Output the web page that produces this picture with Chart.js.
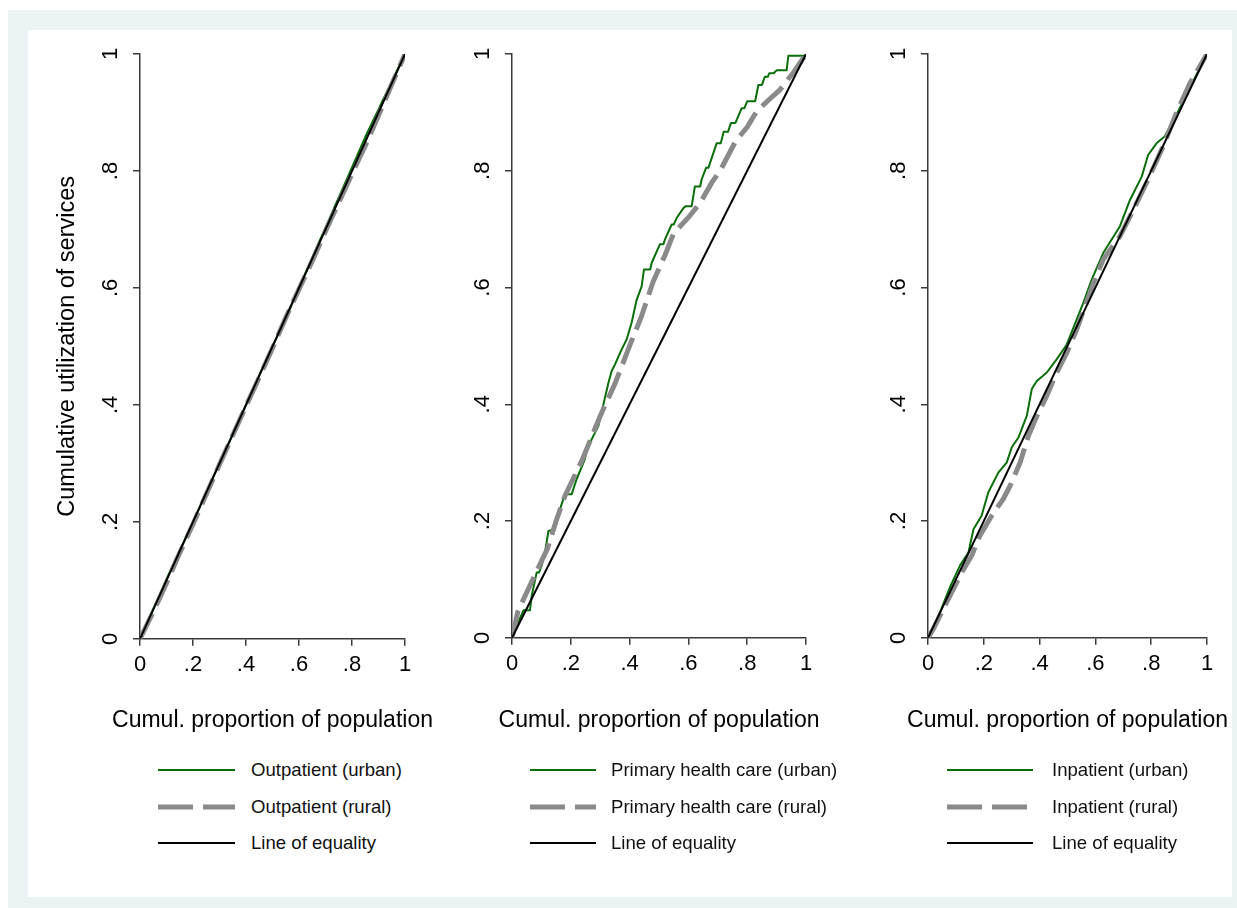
<!DOCTYPE html>
<html>
<head>
<meta charset="utf-8">
<title>Concentration curves</title>
<script src="https://cdn.jsdelivr.net/npm/chart.js@4.4.1/dist/chart.umd.min.js"></script>
<style>
html, body { margin: 0; padding: 0; overflow: hidden; }
body { width: 1237px; height: 908px; position: relative; background: #fff; font-family: "Liberation Sans", Arial, sans-serif; }
#outer { position: absolute; left: 8px; top: 10px; width: 1229px; height: 898px; background: #eaf2f3; }
#inner { position: absolute; left: 28px; top: 30px; width: 1204px; height: 867px; background: #fff; }
canvas { position: absolute; top: 30px; }
.row { position: absolute; height: 24px; display: flex; align-items: center; font-size: 18.6px; color: #111; white-space: nowrap; }
.row svg { display: block; }
</style>
</head>
<body>
<div id="outer"></div>
<div id="inner"></div>
<script>
// axis ticks shared by all three panels
var tickVals = [0, 0.2, 0.4, 0.6, 0.8, 1];
var tickText = ["0", ".2", ".4", ".6", ".8", "1"];
var xTitle = "Cumul. proportion of population";
var yTitle = "Cumulative utilization of services";

var equalityX = [0, 1];
var equalityY = [0, 1];

// Outpatient
var outUrbanX = [0, 0.05, 0.1, 0.15, 0.2, 0.25, 0.3, 0.35, 0.4, 0.45, 0.5, 0.55, 0.6, 0.65, 0.7, 0.75, 0.8, 0.85, 0.9, 0.95, 1];
var outUrbanY = [0, 0.051, 0.102, 0.151, 0.199, 0.25, 0.301, 0.349, 0.4, 0.451, 0.5, 0.548, 0.6, 0.652, 0.703, 0.755, 0.806, 0.858, 0.905, 0.953, 1];
var outRuralX = [0, 0.05, 0.1, 0.15, 0.2, 0.25, 0.3, 0.35, 0.4, 0.45, 0.5, 0.55, 0.6, 0.65, 0.7, 0.75, 0.8, 0.85, 0.9, 0.95, 1];
var outRuralY = [0, 0.046, 0.095, 0.147, 0.196, 0.247, 0.298, 0.348, 0.398, 0.447, 0.497, 0.549, 0.598, 0.646, 0.697, 0.746, 0.795, 0.843, 0.895, 0.948, 1];

// Primary health care
var phcUrbanX = [0, 0.016, 0.039, 0.061, 0.067, 0.084, 0.092, 0.101, 0.112, 0.124, 0.146, 0.163, 0.18, 0.203, 0.22, 0.248, 0.254, 0.294, 0.328, 0.339, 0.35, 0.373, 0.39, 0.407, 0.424, 0.441, 0.449, 0.47, 0.475, 0.503, 0.515, 0.52, 0.543, 0.55, 0.56, 0.583, 0.59, 0.611, 0.622, 0.64, 0.645, 0.66, 0.668, 0.696, 0.71, 0.72, 0.735, 0.745, 0.76, 0.781, 0.79, 0.8, 0.827, 0.838, 0.85, 0.86, 0.87, 0.875, 0.89, 0.9, 0.934, 0.94, 0.997, 1];
var phcUrbanY = [0, 0.021, 0.047, 0.047, 0.072, 0.112, 0.112, 0.124, 0.146, 0.183, 0.186, 0.22, 0.246, 0.246, 0.272, 0.306, 0.323, 0.363, 0.437, 0.457, 0.468, 0.494, 0.511, 0.54, 0.579, 0.602, 0.631, 0.631, 0.642, 0.674, 0.674, 0.682, 0.708, 0.708, 0.719, 0.736, 0.739, 0.739, 0.773, 0.773, 0.785, 0.805, 0.805, 0.847, 0.847, 0.867, 0.867, 0.882, 0.882, 0.907, 0.907, 0.919, 0.919, 0.947, 0.947, 0.961, 0.961, 0.967, 0.967, 0.972, 0.972, 0.997, 0.997, 1];
var phcRuralX = [0, 0.02, 0.04, 0.08, 0.12, 0.15, 0.18, 0.24, 0.3, 0.35, 0.4, 0.44, 0.48, 0.52, 0.55, 0.6, 0.64, 0.68, 0.71, 0.76, 0.8, 0.83, 0.87, 0.91, 0.96, 1];
var phcRuralY = [0, 0.045, 0.067, 0.11, 0.152, 0.2, 0.243, 0.306, 0.38, 0.435, 0.5, 0.55, 0.61, 0.655, 0.693, 0.72, 0.745, 0.78, 0.802, 0.85, 0.875, 0.9, 0.92, 0.938, 0.97, 1];

// Inpatient
var inUrbanX = [0, 0.043, 0.079, 0.115, 0.145, 0.163, 0.192, 0.216, 0.252, 0.282, 0.3, 0.324, 0.354, 0.372, 0.39, 0.425, 0.461, 0.497, 0.557, 0.587, 0.628, 0.688, 0.724, 0.766, 0.789, 0.819, 0.849, 0.9, 0.95, 1];
var inUrbanY = [0, 0.044, 0.087, 0.124, 0.146, 0.186, 0.209, 0.249, 0.283, 0.3, 0.326, 0.343, 0.38, 0.426, 0.44, 0.454, 0.477, 0.502, 0.574, 0.614, 0.659, 0.705, 0.75, 0.79, 0.827, 0.847, 0.859, 0.905, 0.953, 1];
var inRuralX = [0, 0.019, 0.067, 0.121, 0.157, 0.186, 0.228, 0.27, 0.294, 0.33, 0.36, 0.39, 0.425, 0.461, 0.497, 0.533, 0.593, 0.628, 0.688, 0.736, 0.789, 0.843, 0.891, 0.939, 1];
var inRuralY = [0, 0.015, 0.061, 0.112, 0.141, 0.175, 0.209, 0.238, 0.26, 0.3, 0.346, 0.38, 0.414, 0.454, 0.488, 0.528, 0.608, 0.648, 0.688, 0.733, 0.785, 0.842, 0.9, 0.95, 1];

var green = "#0a6e0a";
var gray = "#8a8a8a";
var axisColor = "#3a3a3a";
var fontFamily = "'Liberation Sans', Arial, sans-serif";

function toPoints(xs, ys) {
    var pts = [];
    for (var i = 0; i < xs.length; i++) {
        pts.push({ x: xs[i], y: ys[i] });
    }
    return pts;
}

function addLegend(cfg) {
    var rowsY = [770, 807, 843];
    var items = [
        { text: cfg.labels[0], color: green, width: 2, dash: "" },
        { text: cfg.labels[1], color: gray, width: 5, dash: "35 10" },
        { text: "Line of equality", color: "#000", width: 2, dash: "" }
    ];
    items.forEach(function(item, i) {
        var row = document.createElement("div");
        row.className = "row";
        row.style.left = cfg.legendLeft + "px";
        row.style.top = (rowsY[i] - 12) + "px";
        var w = cfg.sampleWidth;
        row.innerHTML = '<svg width="' + w + '" height="10"><line x1="0" y1="5" x2="' + w + '" y2="5" stroke="' + item.color +
            '" stroke-width="' + item.width + '"' + (item.dash ? ' stroke-dasharray="' + item.dash + '"' : '') + '/></svg>' +
            '<span style="margin-left:' + cfg.textGap + 'px">' + item.text + '</span>';
        document.body.appendChild(row);
    });
}

function drawPanel(cfg) {
    var canvas = document.createElement("canvas");
    // blank right-hand axis as wide as the left one keeps the bottom title centred on the plot
    canvas.width = cfg.yW * 2 + cfg.plotW;
    canvas.height = 720;
    canvas.style.left = cfg.left + "px";
    document.body.appendChild(canvas);

    var datasets = [
        { label: cfg.labels[0], data: toPoints(cfg.urbanX, cfg.urbanY), borderColor: green, borderWidth: 2,
          borderJoinStyle: "round", order: 2 },
        { label: cfg.labels[1], data: toPoints(cfg.ruralX, cfg.ruralY), borderColor: gray, borderWidth: 5,
          borderDash: [28, 9], order: 1 },
        { label: "Line of equality", data: toPoints(equalityX, equalityY), borderColor: "#000", borderWidth: 2, order: 0 }
    ];

    new Chart(canvas.getContext("2d"), {
        type: "line",
        data: { datasets: datasets },
        options: {
            responsive: false,
            animation: false,
            layout: { padding: { top: 24, left: 0, right: 0, bottom: 0 } },
            elements: { point: { radius: 0 }, line: { tension: 0, fill: false } },
            plugins: {
                legend: { display: false },
                tooltip: { enabled: false },
                title: {
                    display: true, position: "bottom", text: xTitle, color: "#000",
                    font: { family: fontFamily, size: 23, weight: "normal" },
                    padding: { top: 10, bottom: 16 }
                }
            },
            scales: {
                x: {
                    type: "linear", min: 0, max: 1,
                    afterBuildTicks: function(s) { s.ticks = tickVals.map(function(v) { return { value: v }; }); },
                    afterFit: function(s) { s.height = cfg.xH; s.paddingLeft = 0; s.paddingRight = 0; },
                    ticks: {
                        autoSkip: false, maxRotation: 0, padding: 6, color: "#000",
                        font: { family: fontFamily, size: 22 },
                        callback: function(v, i) { return tickText[i]; }
                    },
                    grid: { drawOnChartArea: false, drawTicks: true, tickLength: 7, color: axisColor, lineWidth: 1.5 },
                    border: { display: true, color: axisColor, width: 1.5 }
                },
                y: {
                    type: "linear", min: 0, max: 1,
                    afterBuildTicks: function(s) { s.ticks = tickVals.map(function(v) { return { value: v }; }); },
                    afterFit: function(s) { s.width = cfg.yW; s.paddingTop = 0; s.paddingBottom = 0; },
                    title: {
                        display: cfg.showYTitle, text: yTitle, color: "#000",
                        font: { family: fontFamily, size: 23.5 },
                        padding: { top: 25, bottom: 0 }
                    },
                    ticks: {
                        autoSkip: false, minRotation: 90, maxRotation: 90, crossAlign: "center", padding: 13, color: "#000",
                        font: { family: fontFamily, size: 22 },
                        callback: function(v, i) { return tickText[i]; }
                    },
                    grid: { drawOnChartArea: false, drawTicks: true, tickLength: 7, color: axisColor, lineWidth: 1.5 },
                    border: { display: true, color: axisColor, width: 1.5 }
                },
                yRight: {
                    type: "linear", position: "right", min: 0, max: 1,
                    afterFit: function(s) { s.width = cfg.yW; s.paddingTop = 0; s.paddingBottom = 0; },
                    ticks: { display: false },
                    grid: { display: false },
                    border: { display: false }
                }
            }
        }
    });

    addLegend(cfg);
}

document.addEventListener("DOMContentLoaded", function() {
    drawPanel({
        left: 28, yW: 112, plotW: 265, xH: 57.6, showYTitle: true,
        labels: ["Outpatient (urban)", "Outpatient (rural)"],
        urbanX: outUrbanX, urbanY: outUrbanY, ruralX: outRuralX, ruralY: outRuralY,
        legendLeft: 158, sampleWidth: 77, textGap: 16
    });
    drawPanel({
        left: 440, yW: 72, plotW: 294, xH: 58.6, showYTitle: false,
        labels: ["Primary health care (urban)", "Primary health care (rural)"],
        urbanX: phcUrbanX, urbanY: phcUrbanY, ruralX: phcRuralX, ruralY: phcRuralY,
        legendLeft: 530, sampleWidth: 66, textGap: 15
    });
    drawPanel({
        left: 856, yW: 72, plotW: 279, xH: 58.6, showYTitle: false,
        labels: ["Inpatient (urban)", "Inpatient (rural)"],
        urbanX: inUrbanX, urbanY: inUrbanY, ruralX: inRuralX, ruralY: inRuralY,
        legendLeft: 947, sampleWidth: 86, textGap: 19
    });
});
</script>
</body>
</html>
